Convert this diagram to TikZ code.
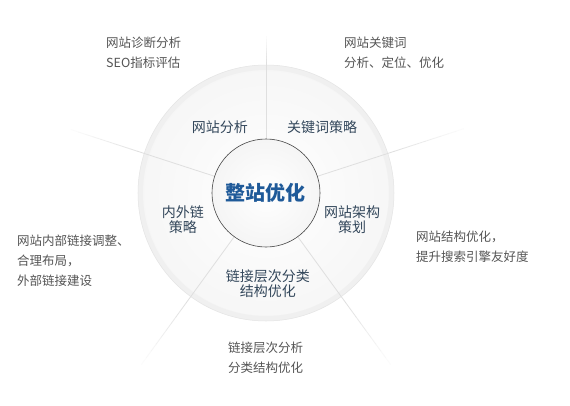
\documentclass[tikz,border=0pt]{standalone}
\usepackage{fontspec}
\setmainfont{Noto Sans CJK SC}
\usetikzlibrary{calc}

\definecolor{notegray}{HTML}{555555}
\definecolor{partslate}{HTML}{33475B}
\definecolor{hubblue}{HTML}{1F5A99}

\begin{document}
\begin{tikzpicture}[x=1pt,y=1pt,
	note/.style={font=\fontsize{12.5}{20}\selectfont,text=notegray,align=left,anchor=west,inner sep=0pt},
	part/.style={font=\fontsize{14}{15}\selectfont,text=partslate,align=center,inner sep=0pt},
	spoke/.style={draw=gray!25,line width=0.8pt}]
	\useasboundingbox (-266,-212) rectangle (304,193);
	\fill[white] (-266,-212) rectangle (304,193);
	%
	\coordinate (o) at (0,0);
	\shade[inner color=white,outer color=gray!7] (o) circle (128);
	\draw[gray!12,line width=5pt] (o) circle (125.5);
	\draw[gray!20,line width=0.5pt] (o) circle (128);
	\foreach \a/\l [count=\i] in {90/157,18/208,-54/212,-126/212,162/205} {
		\coordinate (r\i) at (\a:128);
		\coordinate (s\i) at (\a:\l);
	}
	\foreach \i in {1,...,5} {
		\draw[spoke] (o) -- (r\i);
		\foreach \k [evaluate=\k as \op using 1-(\k-1)/10] in {1,...,10}
			\draw[spoke,draw opacity=\op] ($(r\i)!{(\k-1)/10}!(s\i)$) -- ($(r\i)!{\k/10}!(s\i)$);
	}
	%
	\node[circle,minimum size=108pt,inner sep=0pt,shade,inner color=white,outer color=gray!8,
		draw=gray!55!black,line width=0.6pt,text=hubblue,font=\fontsize{20}{22}\selectfont\bfseries] (hub) at (o) {整站优化};
	%
	\node[part] (wzfx) at (-46,66) {网站分析};
	\node[part] (gjc) at (56,66) {关键词策略};
	\node[part] (nwl) at (-83,-27) {内外链\\策略};
	\node[part] (wzjg) at (86,-27) {网站架构\\策划};
	\node[part] (ljcc) at (2,-91) {链接层次分类\\结构优化};
	%
	\node[note] (zd) at (-160,140.5) {网站诊断分析\\SEO指标评估};
	\node[note] (gjcfx) at (78,140.5) {网站关键词\\分析、定位、优化};
	\node[note] (jgyh) at (150,-54) {网站结构优化，\\提升搜索引擎友好度};
	\node[note] (cc) at (-38,-165) {链接层次分析\\分类结构优化};
	\node[note] (nblj) at (-249,-68) {网站内部链接调整、\\合理布局，\\外部链接建设};
\end{tikzpicture}
\end{document}
